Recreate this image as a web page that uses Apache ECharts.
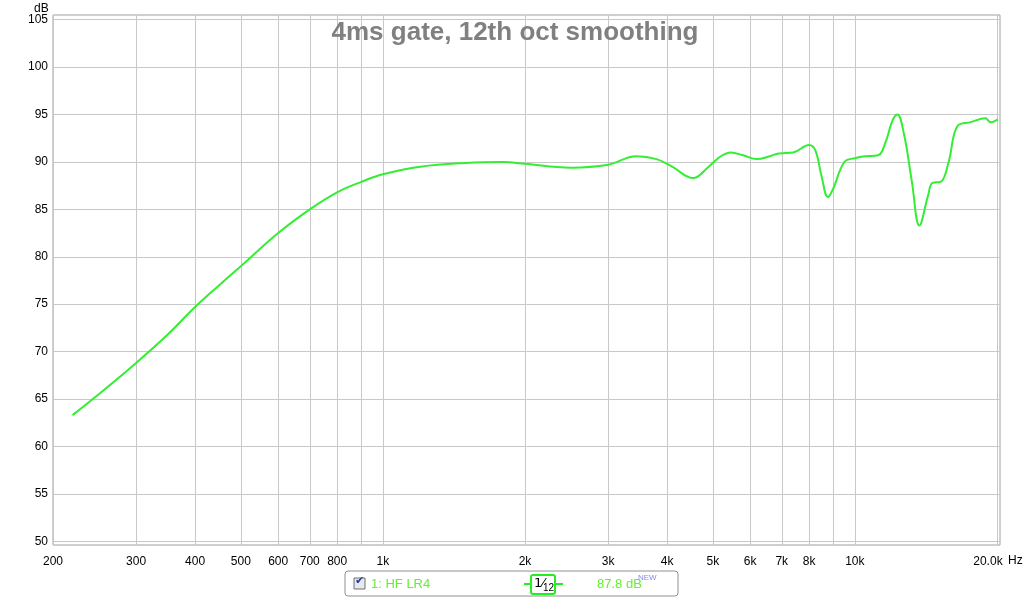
<!DOCTYPE html><html><head><meta charset="utf-8"><script src="https://cdn.jsdelivr.net/npm/echarts@6/dist/echarts.min.js"></script>
<style>body{margin:0;background:#fff}#c{width:1024px;height:599px}</style></head><body><div id="c"></div><script>
const freqs=[220,250,300,350,400,450,500,600,700,800,900,1000,1200,1500,1800,2000,2500,3000,3440,3800,4100,4540,4900,5200,5460,5800,6200,6600,6900,7400,8000,8250,8500,8770,9000,9500,10000,10500,11200,11600,12000,12300,12700,13200,13700,14300,14600,15200,15800,16500,17600,18900,19400,20100];
const dB=[63.3,65.5,68.8,71.8,74.7,77.0,79.0,82.5,85.0,86.8,87.9,88.7,89.5,89.9,90.0,89.8,89.4,89.7,90.6,90.3,89.5,88.3,89.5,90.6,91.0,90.7,90.3,90.6,90.9,91.0,91.8,91.2,88.5,86.3,87.2,90.0,90.4,90.6,90.7,92.0,94.3,95.0,93.0,88.0,83.3,86.5,87.8,87.9,90.0,93.8,94.2,94.6,94.2,94.5];
const xTicks=[200,300,400,500,600,700,800,900,1000,2000,3000,4000,5000,6000,7000,8000,9000,10000,20000];
const xLabels={200:'200',300:'300',400:'400',500:'500',600:'600',700:'700',800:'800',1000:'1k',2000:'2k',3000:'3k',4000:'4k',5000:'5k',6000:'6k',7000:'7k',8000:'8k',10000:'10k',20000:'20.0k'};
const yTicks=[50,55,60,65,70,75,80,85,90,95,100,105];
const grid={color:'#c8c8c8',width:1,type:'solid'};
const ch=echarts.init(document.getElementById('c'));
ch.setOption({animation:false,
title:{text:'4ms gate, 12th oct smoothing',left:510,top:15,textAlign:'center',textStyle:{color:'#808080',fontSize:26,fontWeight:'bold',fontFamily:'Liberation Sans'}},
grid:{left:53,right:24,top:15,bottom:54,show:true,borderColor:'#a0a0a0',borderWidth:1},
xAxis:{type:'log',logBase:10,min:200,max:20300,axisLine:{show:false},axisTick:{show:false},axisLabel:{show:false},splitLine:{show:false},minorSplitLine:{show:false}},
yAxis:{type:'value',min:49.6,max:105.5,axisLine:{show:false},axisTick:{show:false},axisLabel:{show:false},splitLine:{show:false}},
graphic:[
{type:'text',left:34,top:3,style:{text:'dB',fontSize:12,fill:'#000',fontFamily:'Liberation Sans'}},
{type:'text',left:1008,top:555,style:{text:'Hz',fontSize:12,fill:'#000',fontFamily:'Liberation Sans'}},
{type:'rect',shape:{x:345,y:571,width:333,height:25,r:3},style:{fill:'#fff',stroke:'#909090',lineWidth:1}},
{type:'rect',shape:{x:354,y:578,width:11,height:11},style:{fill:'#e8e8f0',stroke:'#707070',lineWidth:1}},
{type:'text',x:355,y:576,style:{text:'✔',fontSize:11,fill:'#2040a0',fontFamily:'DejaVu Sans'}},
{type:'text',x:371,y:578,style:{text:'1: HF LR4',fontSize:13,fill:'#66ee33',fontFamily:'Liberation Sans'}},
{type:'line',shape:{x1:524,y1:584,x2:563,y2:584},style:{stroke:'#22ee22',lineWidth:2}},
{type:'rect',shape:{x:531,y:575,width:24,height:19,r:2},style:{fill:'#fff',stroke:'#22ee22',lineWidth:2}},
{type:'text',x:534,y:577,style:{text:'1⁄',fontSize:13,fill:'#000',fontFamily:'DejaVu Sans'}},
{type:'text',x:543,y:583,style:{text:'12',fontSize:10,fill:'#000',fontFamily:'Liberation Sans'}},
{type:'text',x:597,y:578,style:{text:'87.8 dB',fontSize:13,fill:'#66ee33',fontFamily:'Liberation Sans'}},
{type:'text',x:638,y:574,style:{text:'NEW',fontSize:8,fill:'#8888ee',fontFamily:'Liberation Sans'}}
],
series:[{type:'line',data:freqs.map((f,i)=>[f,dB[i]]),smooth:0.4,symbol:'none',lineStyle:{color:'#33ee33',width:2},z:5,
markLine:{silent:true,symbol:'none',animation:false,lineStyle:grid,
label:{show:true,position:'start',color:'#000',fontSize:12,fontFamily:'Liberation Sans',formatter:p=>p.name},
data:xTicks.map(v=>({xAxis:v,name:xLabels[v]||'',label:{distance:11,offset:v===20000?[-9,0]:[0,0]}})).concat(yTicks.map(v=>({yAxis:v,name:String(v),label:{distance:5}})))}}]
});
</script></body></html>
